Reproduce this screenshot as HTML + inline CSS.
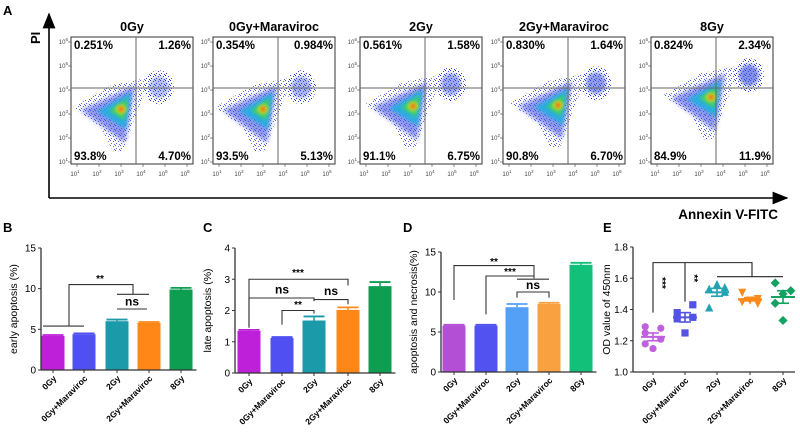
<!DOCTYPE html>
<html><head><meta charset="utf-8"><style>
html,body{margin:0;padding:0;background:#fff}
svg{display:block;font-family:"Liberation Sans",Arial,sans-serif}
</style></head><body>
<svg id="fig" width="800" height="435" viewBox="0 0 800 435">
<defs>
<filter id="bl" x="-50%" y="-50%" width="200%" height="200%"><feGaussianBlur stdDeviation="2.5"/></filter>
<filter id="bl2" x="-50%" y="-50%" width="200%" height="200%"><feGaussianBlur stdDeviation="1.8"/></filter>
<pattern id="dots" width="5" height="5" patternUnits="userSpaceOnUse">
<rect x="0" y="0" width="1" height="1" fill="#2030d0"/><rect x="3" y="1" width="1" height="1" fill="#3050e0"/><rect x="1" y="3" width="1" height="1" fill="#4040c0"/><rect x="4" y="4" width="1" height="1" fill="#2040e0"/>
</pattern>
<marker id="arr" markerWidth="10" markerHeight="8" refX="9" refY="4" orient="auto"><path d="M0,0 L10,4 L0,8 z" fill="#000"/></marker>
</defs>
<g id="panelA"></g>
<g id="bars"></g>
<g id="panelE"></g>
</svg>
<script>
// ---------- data ----------
const flowTitles=["0Gy","0Gy+Maraviroc","2Gy","2Gy+Maraviroc","8Gy"];
const flowUL=["0.251%","0.354%","0.561%","0.830%","0.824%"];
const flowUR=["1.26%","0.984%","1.58%","1.64%","2.34%"];
const flowLL=["93.8%","93.5%","91.1%","90.8%","84.9%"];
const flowLR=["4.70%","5.13%","6.75%","6.70%","11.9%"];
const groups=["0Gy","0Gy+Maraviroc","2Gy","2Gy+Maraviroc","8Gy"];
const earlyVals=[4.2,4.4,6.0,5.8,9.9];
const earlyErr=[0.1,0.1,0.2,0.1,0.2];
const lateVals=[1.35,1.12,1.68,2.02,2.78];
const lateErr=[0.03,0.03,0.13,0.08,0.13];
const necVals=[5.8,5.8,8.1,8.5,13.4];
const necErr=[0.1,0.1,0.4,0.15,0.25];
const odPoints=[[1.29,1.28,1.25,1.21,1.18,1.15],[1.43,1.38,1.35,1.34,1.25],[1.56,1.54,1.53,1.51,1.41],[1.51,1.47,1.46,1.45,1.44],[1.57,1.52,1.50,1.44,1.33]];
const odMean=[1.225,1.35,1.51,1.465,1.48];
const odSem=[0.025,0.03,0.025,0.01,0.04];
const ticksB=[0,5,10,15], ticksC=[0,1,2,3,4], ticksD=[0,5,10,15], ticksE=[1.0,1.2,1.4,1.6,1.8];

const NS="http://www.w3.org/2000/svg";
function mk(parent,tag,attrs,text){const e=document.createElementNS(NS,tag);for(const k in attrs)e.setAttribute(k,attrs[k]);if(text!==undefined)e.textContent=text;parent.appendChild(e);return e;}

// ---------- Panel A ----------
const A=document.getElementById('panelA');
let t=mk(A,'text',{x:3,y:15,'font-size':13,'font-weight':'bold'},'A');

let l=mk(A,'line',{x1:49,y1:198,x2:49,y2:14,stroke:'#000','stroke-width':1.6,'marker-end':'url(#arr)'});

l=mk(A,'line',{x1:49,y1:198,x2:787,y2:198,stroke:'#000','stroke-width':1.6,'marker-end':'url(#arr)'});

t=mk(A,'text',{x:0,y:0,'font-size':13,'font-weight':'bold',transform:'translate(40,44) rotate(-90)'},'PI');

t=mk(A,'text',{x:778,y:219,'font-size':13.5,'font-weight':'bold','text-anchor':'end'},'Annexin V-FITC');


const boxX=[71,213,360,503,651];
const shift=[0,0,3,5,10], lift=[0,0,3,4,12];
for(let i=0;i<5;i++){
  const x0=boxX[i], y0=37, w=122, h=127;
  const g=mk(A,'g',{});
  
  t=mk(g,'text',{x:x0+w/2,y:31,'font-size':12.5,'font-weight':'bold','text-anchor':'middle'},flowTitles[i]);
  
  const sx=v=>x0+6+(v-1)*22, sy=v=>y0+127-2-(v-1)*24;
  const cx=sx(3)+shift[i], cy=sy(3.2)-lift[i];
  const b=mk(g,'g',{});
  
  // sparse outer dots
  mk(b,'polygon',{points:`${cx-48},${cy-2} ${cx-10},${cy-24} ${cx+30},${cy-32} ${cx+14},${cy+8} ${cx+2},${cy+42} ${cx-8},${cy+42} ${cx-20},${cy+18}`,fill:'url(#dots)',opacity:0.8});
  mk(b,'ellipse',{cx:cx+38,cy:cy-22,rx:15,ry:17,fill:'url(#dots)'});
  mk(b,'ellipse',{cx:cx+38,cy:cy-22,rx:10,ry:11,fill:'#3a50e0',opacity:0.35+i*0.07,filter:'url(#bl2)'});
  mk(b,'polygon',{points:`${cx-40},${cy+1} ${cx+14},${cy-24} ${cx+4},${cy+34}`,fill:'#3545dd',opacity:0.55,filter:'url(#bl)'});
  mk(b,'polygon',{points:`${cx-24},${cy+2} ${cx+10},${cy-17} ${cx+5},${cy+20}`,fill:'#22b0e0',opacity:0.9,filter:'url(#bl2)'});
  mk(b,'polygon',{points:`${cx-12},${cy+1} ${cx+7},${cy-11} ${cx+3},${cy+11}`,fill:'#40d060',filter:'url(#bl2)'});
  mk(b,'ellipse',{cx:cx,cy:cy,rx:5,ry:4.5,fill:'#e0e020',filter:'url(#bl2)'});
  mk(b,'ellipse',{cx:cx,cy:cy,rx:2.2,ry:2.2,fill:'#f03010',filter:'url(#bl2)'});
  const r=mk(g,'rect',{x:x0,y:y0,width:w,height:h,fill:'none',stroke:'#333','stroke-width':1});
  
  const qx=x0+65, qy=88;
  mk(g,'line',{x1:qx,y1:y0,x2:qx,y2:y0+h,stroke:'#666','stroke-width':1});
  mk(g,'line',{x1:x0,y1:qy,x2:x0+w,y2:qy,stroke:'#666','stroke-width':1});
  for(let d=1;d<=6;d++){
    let tt=mk(g,'text',{x:sx(d)-2,y:y0+h+12,'font-size':6,fill:'#444','text-anchor':'middle'},'10');
    mk(tt,'tspan',{dy:-3,'font-size':4.5},String(d));
    
    tt=mk(g,'text',{x:x0-3,y:sy(d)+2,'font-size':6,fill:'#444','text-anchor':'end'},'10');
    mk(tt,'tspan',{dy:-3,'font-size':4.5},String(d));
    
    mk(g,'line',{x1:sx(d),y1:y0+h,x2:sx(d),y2:y0+h+3,stroke:'#444','stroke-width':0.6});
    mk(g,'line',{x1:x0,y1:sy(d),x2:x0-3,y2:sy(d),stroke:'#444','stroke-width':0.6});
  }
  const q=[[x0+3,y0+12,'start',flowUL[i],'q-upper-left'],[x0+w-2,y0+12,'end',flowUR[i],'q-upper-right'],[x0+3,y0+h-4,'start',flowLL[i],'q-lower-left'],[x0+w-2,y0+h-4,'end',flowLR[i],'q-lower-right']];
  q.forEach(a=>{const e=mk(g,'text',{x:a[0],y:a[1],'font-size':11.5,'font-weight':'bold','text-anchor':a[2]},a[3]);});
}

// ---------- Bar panels ----------
const BG=document.getElementById('bars');
function barPanel(cfg){
  const g=mk(BG,'g',{});
  
  const {ax,y0,y1,vmax,centers,vals,err,ticks,colors,label,letter,title,bw}=cfg;
  const sy=v=>y0-(v/vmax)*(y0-y1);
  t=mk(g,'text',{x:letter[0],y:letter[1],'font-size':13,'font-weight':'bold'},title);
  
  vals.forEach((v,i)=>{
    const c=centers[i];
    mk(g,'line',{x1:c,y1:sy(v),x2:c,y2:sy(v+err[i]),stroke:colors[i],'stroke-width':1.5});
    mk(g,'line',{x1:c-bw/2+1,y1:sy(v+err[i]),x2:c+bw/2-1,y2:sy(v+err[i]),stroke:colors[i],'stroke-width':1.8});
    const r=mk(g,'rect',{x:c-bw/2,y:sy(v),width:bw,height:sy(0)-sy(v),fill:colors[i]});
    
  });
  mk(g,'line',{x1:ax,y1:y0,x2:ax,y2:sy(ticks[ticks.length-1]),stroke:'#333','stroke-width':1.3});
  mk(g,'line',{x1:ax,y1:y0,x2:centers[4]+bw/2+4,y2:y0,stroke:'#333','stroke-width':1.3});
  ticks.forEach(v=>{
    mk(g,'line',{x1:ax-3,y1:sy(v),x2:ax,y2:sy(v),stroke:'#333','stroke-width':1});
    const e=mk(g,'text',{x:ax-5,y:sy(v)+3.5,'font-size':10,'text-anchor':'end'},String(v));
    
  });
  centers.forEach((c,i)=>{
    mk(g,'line',{x1:c,y1:y0,x2:c,y2:y0+3,stroke:'#333','stroke-width':1});
    const e=mk(g,'text',{x:0,y:0,'font-size':8.5,'font-weight':'bold','text-anchor':'end',transform:`translate(${c+4},${y0+9}) rotate(-45)`},groups[i]);
    
  });
  const yl=mk(g,'text',{x:0,y:0,'font-size':10.5,'text-anchor':'middle',transform:`translate(${ax-24},${(y0+y1)/2}) rotate(-90)`},label);
  
  (cfg.lines||[]).forEach(p=>{const pts=p.map(q=>q[0]+','+sy(q[1])).join(' ');const e=mk(g,'polyline',{points:pts,fill:'none',stroke:'#333','stroke-width':1.1});});
  (cfg.labels||[]).forEach(s=>{const e=mk(g,'text',{x:s[0],y:sy(s[1]),'font-size':s[3],'font-weight':'bold','text-anchor':'middle'},s[2]);});
}
const cB=[53,84,117,149,181], cC=[249,282,314,348,380], cD=[454,486,517,549,581];
barPanel({name:'panel-b-early-apoptosis',title:'B',letter:[3,232],ax:41,y0:370,y1:248,vmax:15,centers:cB,bw:23,vals:earlyVals,err:earlyErr,ticks:ticksB,
  colors:['#be1fd8','#5050f2','#1b9aa9','#ff8717','#0e9e52'],label:'early apoptosis (%)',
  lines:[[[43,5.4],[84,5.4]],[[69,5.4],[69,10.5],[133,10.5],[133,9.3]],[[117,9.3],[149,9.3]],[[117,7.5],[147,7.5]]],
  labels:[[100,10.8,'**',10],[132,7.9,'ns',12]]});
barPanel({name:'panel-c-late-apoptosis',title:'C',letter:[203,232],ax:235,y0:373,y1:248,vmax:4,centers:cC,bw:23,vals:lateVals,err:lateErr,ticks:ticksC,
  colors:['#be1fd8','#5050f2','#1b9aa9','#ff8717','#0e9e52'],label:'late apoptosis (%)',
  lines:[[[249,1.45],[249,3.0],[348,3.0],[348,2.8]],[[249,1.5],[249,2.4],[314,2.4],[314,2.3]],[[282,1.55],[282,2.0],[314,2.0],[314,1.9]],[[314,2.3],[314,2.35],[348,2.35],[348,2.2]]],
  labels:[[298,3.1,'***',10],[282,2.55,'ns',12],[298,2.08,'**',10],[331,2.5,'ns',12]]});
barPanel({name:'panel-d-apoptosis-necrosis',title:'D',letter:[403,232],ax:441,y0:372,y1:252,vmax:15,centers:cD,bw:23,vals:necVals,err:necErr,ticks:ticksD,
  colors:['#b24fd4','#5252f0','#55a0f7','#f9a040','#12c07a'],label:'apoptosis and necrosis(%)',
  lines:[[[454,9.0],[454,13.3],[534,13.3],[534,11.7]],[[486,7.2],[486,12.0],[534,12.0]],[[517,11.6],[549,11.6]],[[517,9.3],[517,10.0],[549,10.0],[549,9.3]]],
  labels:[[494,13.4,'**',10],[510,12.1,'***',10],[533,10.4,'ns',12]]});

// ---------- Panel E ----------
const E=document.getElementById('panelE');
const eC=[653,685,717,750,783], eColors=['#c060e0','#5252e4','#22a2b2','#ff8a1a','#12a262'];
const ax=633,y0=372,y1=247;
const syE=v=>y0-(v-1.0)/0.8*(y0-y1);
t=mk(E,'text',{x:603,y:232,'font-size':13,'font-weight':'bold'},'E');

mk(E,'line',{x1:ax,y1:y0,x2:ax,y2:y1,stroke:'#333','stroke-width':1.3});
mk(E,'line',{x1:ax,y1:y0,x2:795,y2:y0,stroke:'#333','stroke-width':1.3});
ticksE.forEach(v=>{mk(E,'line',{x1:ax-3,y1:syE(v),x2:ax,y2:syE(v),stroke:'#333'});const e=mk(E,'text',{x:ax-5,y:syE(v)+3.5,'font-size':10,'text-anchor':'end'},v.toFixed(1));});
t=mk(E,'text',{x:0,y:0,'font-size':10.5,'text-anchor':'middle',transform:`translate(${ax-23},${(y0+y1)/2}) rotate(-90)`},'OD value of 450nm');

function marker(g,k,x,y,c){
  const s=3.6;
  if(k===0) return mk(g,'circle',{cx:x,cy:y,r:s,fill:c});
  if(k===1) return mk(g,'rect',{x:x-s,y:y-s,width:2*s,height:2*s,fill:c});
  if(k===2) return mk(g,'polygon',{points:`${x},${y-s-1} ${x+s+0.5},${y+s} ${x-s-0.5},${y+s}`,fill:c});
  if(k===3) return mk(g,'polygon',{points:`${x},${y+s+1} ${x+s+0.5},${y-s} ${x-s-0.5},${y-s}`,fill:c});
  return mk(g,'polygon',{points:`${x},${y-s-1} ${x+s+1},${y} ${x},${y+s+1} ${x-s-1},${y}`,fill:c});
}
const offs=[[-6,6,-6,6,-6,0],[6,-6,6,-6,0],[0,6,-6,6,-6],[-6,6,0,-6,6],[-6,6,0,-6,0]];
odPoints.forEach((arr,i)=>{
  const g=mk(E,'g',{});
  
  const c=eC[i];
  arr.forEach((v,j)=>{const m=marker(g,i,c+(offs[i][j]||0)*1.3,syE(v),eColors[i]);});
  mk(g,'line',{x1:c-12,y1:syE(odMean[i]),x2:c+12,y2:syE(odMean[i]),stroke:eColors[i],'stroke-width':2});
  mk(g,'line',{x1:c,y1:syE(odMean[i]-odSem[i]),x2:c,y2:syE(odMean[i]+odSem[i]),stroke:eColors[i],'stroke-width':1.6});
  mk(g,'line',{x1:c-6,y1:syE(odMean[i]-odSem[i]),x2:c+6,y2:syE(odMean[i]-odSem[i]),stroke:eColors[i],'stroke-width':1.6});
  mk(g,'line',{x1:c-6,y1:syE(odMean[i]+odSem[i]),x2:c+6,y2:syE(odMean[i]+odSem[i]),stroke:eColors[i],'stroke-width':1.6});
  mk(E,'line',{x1:c,y1:y0,x2:c,y2:y0+3,stroke:'#333'});
  const e=mk(E,'text',{x:0,y:0,'font-size':8.5,'font-weight':'bold','text-anchor':'end',transform:`translate(${c+4},${y0+9}) rotate(-45)`},groups[i]);
  
});
[[[653,1.38],[653,1.70],[752,1.70],[752,1.61]],[[685,1.45],[685,1.70]],[[717,1.61],[783,1.61]]].forEach(p=>{
  const e=mk(E,'polyline',{points:p.map(q=>q[0]+','+syE(q[1])).join(' '),fill:'none',stroke:'#222','stroke-width':1.1});
  
});
t=mk(E,'text',{x:0,y:0,'font-size':10,'font-weight':'bold','text-anchor':'middle',transform:`translate(659,${syE(1.57)}) rotate(90)`},'***');

t=mk(E,'text',{x:0,y:0,'font-size':10,'font-weight':'bold','text-anchor':'middle',transform:`translate(691,${syE(1.60)}) rotate(90)`},'**');

</script>
</body></html>
